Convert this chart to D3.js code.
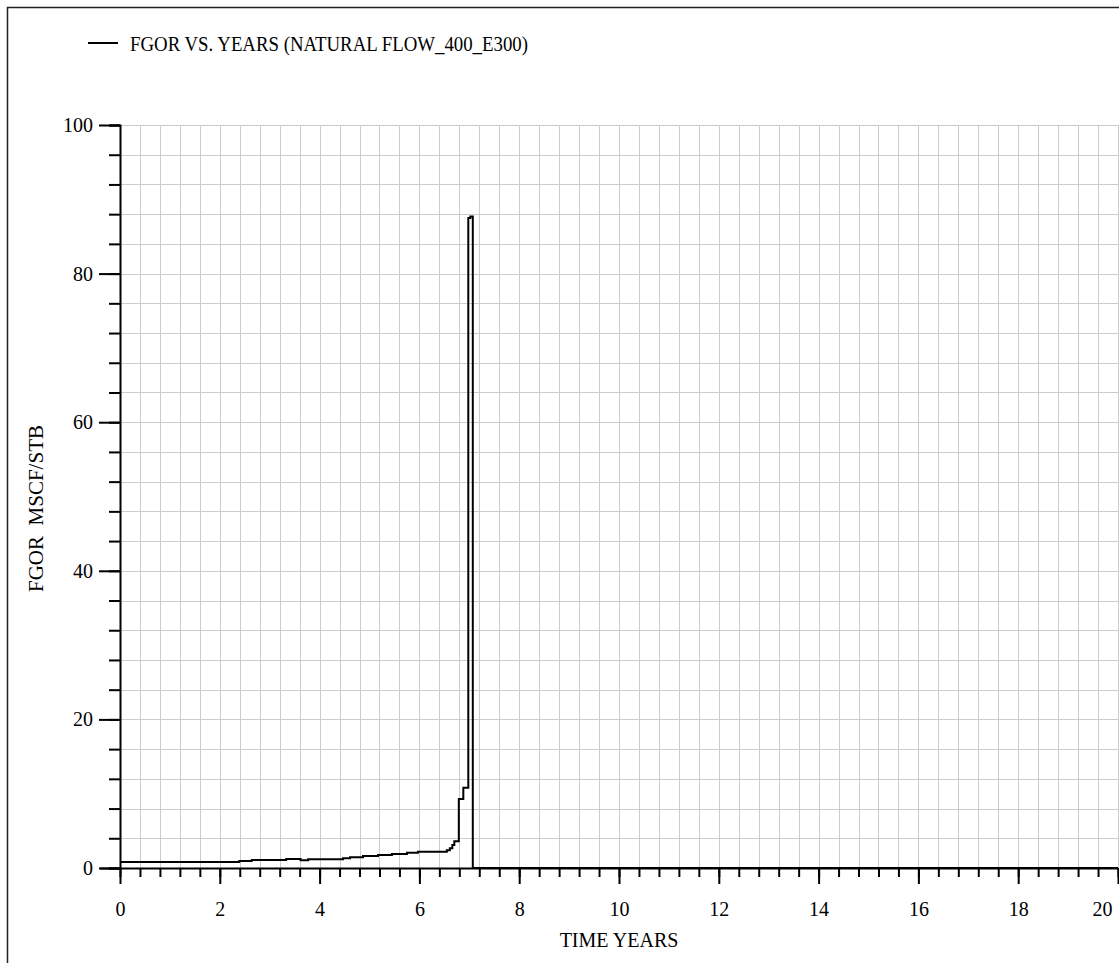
<!DOCTYPE html>
<html lang="en">
<head>
    <meta charset="UTF-8">
    <title>FGOR vs Years</title>
    <style>
        body { margin: 0; background: #fff; }
        svg { display: block; font-family: "Liberation Serif", "Times New Roman", serif; }
    </style>
</head>
<body>
    <svg width="1119" height="963"></svg>
    <script src="https://d3js.org/d3.v7.min.js"></script>
    <script>

        // step data
        let years = [0, 2.39, 2.64, 3.33, 3.62, 3.77, 4.47, 4.61, 4.87, 5.17, 5.45, 5.75, 5.97, 6.55, 6.61, 6.66, 6.70, 6.79, 6.88, 6.98, 7.02, 7.07, 20];
        let fgor = [0.8, 0.95, 1.08, 1.2, 1.05, 1.17, 1.3, 1.45, 1.6, 1.75, 1.88, 2.05, 2.2, 2.4, 2.65, 3.1, 3.6, 9.3, 10.8, 87.5, 87.7, 0, 0];

        let xMajor = [0, 2, 4, 6, 8, 10, 12, 14, 16, 18, 20],
            yMajor = [0, 20, 40, 60, 80, 100];
        let legendText = "FGOR VS. YEARS (NATURAL FLOW_400_E300)",
            xTitle = "TIME YEARS",
            yTitle = "FGOR  MSCF/STB";

        let svg = d3.select("svg");
        let pLeft = 120, pRight = 1118, pTop = 125, pBottom = 868;

        let x = d3.scaleLinear().domain([0, 20]).range([pLeft, pRight]),
            y = d3.scaleLinear().domain([0, 100]).range([pBottom, pTop]);

        let xMinor = d3.range(0, 20.001, 0.4),
            yMinor = d3.range(0, 100.001, 4);

        // frame
        svg.append("path")
            .attr("d", "M7.5,963V7.5H1119")
            .attr("fill", "none").attr("stroke", "#222").attr("stroke-width", 1.5);

        // grid
        let grid = svg.append("g").attr("stroke", "#cccccc").attr("stroke-width", 1);
        grid.selectAll(".gx").data(xMinor).join("line")
            .attr("x1", d => Math.round(x(d)) + 0.5).attr("x2", d => Math.round(x(d)) + 0.5)
            .attr("y1", pTop).attr("y2", pBottom);
        grid.selectAll(".gy").data(yMinor).join("line")
            .attr("y1", d => Math.round(y(d)) + 0.5).attr("y2", d => Math.round(y(d)) + 0.5)
            .attr("x1", pLeft).attr("x2", pRight);

        // axes
        let xAxis = svg.append("g").attr("transform", `translate(0,${pBottom})`)
            .call(d3.axisBottom(x).tickValues(xMinor).tickSize(9).tickFormat(""));
        svg.append("g").attr("transform", `translate(0,${pBottom})`)
            .call(d3.axisBottom(x).tickValues(xMajor).tickSize(16).tickPadding(18).tickFormat(d3.format("d")))
            .call(g => g.select(".domain").remove())
            .call(g => g.selectAll(".tick text").filter(d => d === 20).attr("text-anchor", "end").attr("dx", -6));
        xAxis.select(".domain").attr("d", `M${pLeft - 20},0.5H${pRight}`);

        let yAxis = svg.append("g").attr("transform", `translate(${pLeft},0)`)
            .call(d3.axisLeft(y).tickValues(yMinor).tickSize(11).tickFormat(""));
        svg.append("g").attr("transform", `translate(${pLeft},0)`)
            .call(d3.axisLeft(y).tickValues(yMajor).tickSize(21).tickPadding(6).tickFormat(d3.format("d")))
            .call(g => g.select(".domain").remove());

        svg.selectAll(".domain, .tick line").attr("stroke", "#000").attr("stroke-width", 2);
        svg.selectAll(".tick text").attr("font-size", 20).attr("fill", "#000")
            .attr("font-family", "Liberation Serif");

        // series
        let line = d3.line().x(d => x(d[0])).y(d => y(d[1])).curve(d3.curveStepAfter);
        svg.append("path")
            .datum(d3.zip(years, fgor))
            .attr("d", line)
            .attr("fill", "none").attr("stroke", "#000").attr("stroke-width", 2);

        // legend
        svg.append("line").attr("x1", 88).attr("x2", 118).attr("y1", 43).attr("y2", 43)
            .attr("stroke", "#000").attr("stroke-width", 2);
        svg.append("text").attr("x", 130).attr("y", 51).attr("font-size", 21)
            .attr("textLength", 398).attr("lengthAdjust", "spacingAndGlyphs").text(legendText);

        // titles
        svg.append("text").attr("x", (pLeft + pRight) / 2).attr("y", 947)
            .attr("text-anchor", "middle").attr("font-size", 20).text(xTitle);
        svg.append("text").attr("transform", `translate(43,592) rotate(-90)`)
            .attr("font-size", 20).style("white-space", "pre")
            .attr("textLength", 167).attr("lengthAdjust", "spacingAndGlyphs").text(yTitle);

    </script>
</body>
</html>
